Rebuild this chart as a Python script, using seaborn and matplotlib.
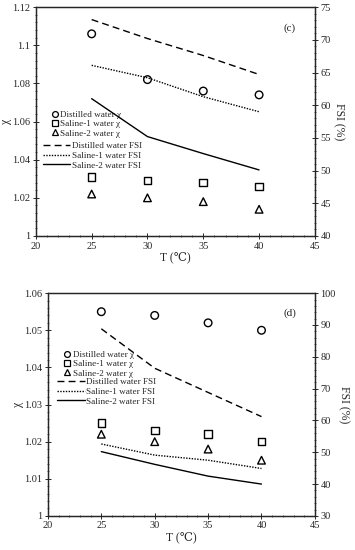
import pandas as pd
import numpy as np
import matplotlib
matplotlib.use("Agg")
import matplotlib.pyplot as plt
import seaborn as sns
from matplotlib.ticker import AutoMinorLocator, MultipleLocator
from matplotlib.lines import Line2D

# temperatures (deg C)
temps = [25, 30, 35, 40]

# panel (c) values
c_chi_dist = [1.106, 1.082, 1.076, 1.074]
c_chi_sal1 = [1.031, 1.029, 1.028, 1.026]
c_chi_sal2 = [1.022, 1.020, 1.018, 1.014]
c_fsi_dist = [73.1, 70.2, 67.6, 64.7]
c_fsi_sal1 = [66.1, 64.2, 61.3, 59.0]
c_fsi_sal2 = [61.0, 55.2, 52.6, 50.1]

# panel (d) values
d_chi_dist = [1.055, 1.054, 1.052, 1.050]
d_chi_sal1 = [1.025, 1.023, 1.022, 1.020]
d_chi_sal2 = [1.022, 1.020, 1.018, 1.015]
d_fsi_dist = [88.8, 76.4, 68.8, 61.2]
d_fsi_sal1 = [52.6, 49.1, 47.5, 44.9]
d_fsi_sal2 = [50.2, 46.2, 42.5, 40.0]

waters = ["Distilled water", "Saline-1 water", "Saline-2 water"]
markers = ["o", "s", "^"]
dashes = [(5, 3), (1, 1), ""]

sns.set_style("ticks")
plt.rcParams["font.family"] = ["Liberation Serif", "DejaVu Serif"]

fig = plt.figure(figsize=(3.55, 5.5), dpi=100)


def panel(rect, chi, fsi, ylim, ystep, y2lim, y2step, tag, mk_anchor, ln_anchor):
    ax = fig.add_axes(rect)
    chi_df = pd.DataFrame({"T": temps * 3,
                           "chi": sum(chi, []),
                           "water": np.repeat(waters, 4)})
    fsi_df = pd.DataFrame({"T": temps * 3,
                           "fsi": sum(fsi, []),
                           "water": np.repeat(waters, 4)})
    sns.scatterplot(data=chi_df, x="T", y="chi", style="water", markers=markers,
                    s=30, facecolor="none", edgecolor="black", linewidth=1.0,
                    legend=False, ax=ax)
    ax2 = ax.twinx()
    sns.lineplot(data=fsi_df, x="T", y="fsi", style="water", dashes=dashes,
                 color="black", linewidth=1.0, legend=False, ax=ax2)

    ax.set_xlim(20, 45)
    ax.set_ylim(*ylim)
    ax2.set_ylim(*y2lim)
    ax.xaxis.set_major_locator(MultipleLocator(5))
    ax.yaxis.set_major_locator(MultipleLocator(ystep))
    ax2.yaxis.set_major_locator(MultipleLocator(y2step))
    for a in (ax, ax2):
        a.yaxis.set_minor_locator(AutoMinorLocator(5))
        a.tick_params(direction="inout", length=4, width=0.7, labelsize=7.5, pad=2)
        a.tick_params(which="minor", direction="inout", length=2, width=0.5)
        for sp in a.spines.values():
            sp.set_linewidth(0.9)
    ax.xaxis.set_minor_locator(AutoMinorLocator(5))
    ax.yaxis.set_major_formatter(lambda v, p: f"{v:g}")
    ax.set_xlabel("T (\u2103)", fontsize=8.5, labelpad=1)
    ax.set_ylabel("\u03c7", fontsize=8.5, labelpad=0)
    ax2.set_ylabel("FSI (%)", fontsize=8.5, rotation=270, labelpad=10)
    ax.text(0.93, 0.93, tag, transform=ax.transAxes, ha="right", va="top", fontsize=8)

    mk_handles = [Line2D([], [], ls="none", marker=m, mfc="none", mec="black",
                         mew=0.9, ms=4.2, label=w + " \u03c7")
                  for w, m in zip(waters, markers)]
    ln_handles = []
    for w, d in zip(waters, dashes):
        ln = Line2D([], [], color="black", lw=1.0, label=w + " FSI")
        if d:
            ln.set_dashes(d)
        ln_handles.append(ln)
    ax.legend(handles=mk_handles, loc="upper left", bbox_to_anchor=mk_anchor,
              frameon=False, fontsize=6.6, handlelength=0.6, handletextpad=0.3,
              labelspacing=0.1, borderaxespad=0, borderpad=0)
    ax2.legend(handles=ln_handles, loc="upper left", bbox_to_anchor=ln_anchor,
               frameon=False, fontsize=6.6, handlelength=3.0, handletextpad=0.2,
               labelspacing=0.15, borderaxespad=0, borderpad=0)
    return ax


panel([0.101, 0.571, 0.786, 0.416],
      [c_chi_dist, c_chi_sal1, c_chi_sal2],
      [c_fsi_dist, c_fsi_sal1, c_fsi_sal2],
      (1.0, 1.12), 0.02, (40, 75), 5, "(c)", (0.058, 0.548), (0.025, 0.412))

panel([0.135, 0.062, 0.752, 0.405],
      [d_chi_dist, d_chi_sal1, d_chi_sal2],
      [d_fsi_dist, d_fsi_sal1, d_fsi_sal2],
      (1.0, 1.06), 0.01, (30, 100), 10, "(d)", (0.062, 0.742), (0.034, 0.621))

fig.savefig("out.png", dpi=100)
